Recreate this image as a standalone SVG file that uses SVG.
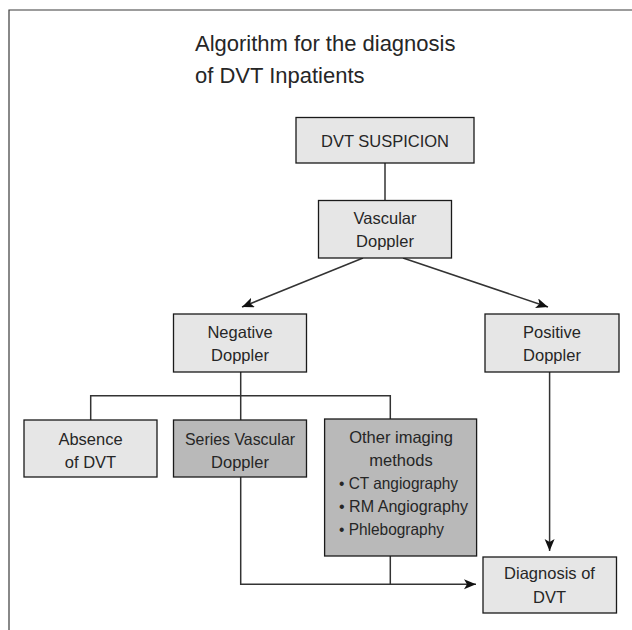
<svg xmlns="http://www.w3.org/2000/svg" width="632" height="630" viewBox="0 0 632 630">
  <style>
    .box { stroke: #1a1a1a; stroke-width: 1.3; }
    .light { fill: #e6e6e6; }
    .dark { fill: #b9b9b9; }
    .lbl { font-family: "Liberation Sans", Arial, sans-serif; font-size: 16.5px; fill: #262626; text-anchor: middle; }
    .left { text-anchor: start; }
    .title { font-family: "Liberation Sans", Arial, sans-serif; font-size: 22px; fill: #262626; }
    .conn { fill: none; stroke: #333; stroke-width: 1.5; }
  </style>
  <defs>
    <marker id="arr" markerUnits="userSpaceOnUse" markerWidth="14" markerHeight="12" refX="12" refY="5" orient="auto">
      <path d="M0,0 L12,5 L0,10 L3,5 Z" fill="#111"/>
    </marker>
  </defs>
  <rect x="0" y="0" width="632" height="630" fill="#ffffff"/>
  <path d="M9,640 V10 H640" fill="none" stroke="#3a3a3a" stroke-width="1.2"/>

  <g id="title">
    <text class="title" x="195" y="51">Algorithm for the diagnosis</text>
    <text class="title" x="195" y="83">of DVT Inpatients</text>
  </g>

  <g id="connectors">
    <path class="conn" d="M385,163 V200.5"/>
    <path class="conn" d="M363,258 L242,307" marker-end="url(#arr)"/>
    <path class="conn" d="M403,258 L548,307" marker-end="url(#arr)"/>
    <path class="conn" d="M240.7,372 V420"/>
    <path class="conn" d="M90.7,420 V395.7 H390.3 V419"/>
    <path class="conn" d="M549.6,372 V551" marker-end="url(#arr)"/>
    <path class="conn" d="M240.7,477 V584.3 H476" marker-end="url(#arr)"/>
    <path class="conn" d="M390.3,556 V584.3"/>
  </g>

  <g id="n-dvt-suspicion">
    <rect class="box light" x="296" y="117.5" width="178" height="45.5"/>
    <text class="lbl" x="385" y="147">DVT SUSPICION</text>
  </g>
  <g id="n-vascular-doppler">
    <rect class="box light" x="318.5" y="200.5" width="133" height="57.5"/>
    <text class="lbl" x="385" y="223.5">Vascular</text>
    <text class="lbl" x="385" y="246.5">Doppler</text>
  </g>
  <g id="n-negative-doppler">
    <rect class="box light" x="173.5" y="314" width="133" height="58"/>
    <text class="lbl" x="240" y="338">Negative</text>
    <text class="lbl" x="240" y="361">Doppler</text>
  </g>
  <g id="n-positive-doppler">
    <rect class="box light" x="485" y="314" width="134" height="58"/>
    <text class="lbl" x="552" y="338">Positive</text>
    <text class="lbl" x="552" y="361">Doppler</text>
  </g>
  <g id="n-absence">
    <rect class="box light" x="24" y="420" width="133" height="57"/>
    <text class="lbl" x="90.5" y="444.5">Absence</text>
    <text class="lbl" x="90.5" y="467.5">of DVT</text>
  </g>
  <g id="n-series">
    <rect class="box dark" x="173.5" y="420" width="133" height="57"/>
    <text class="lbl" x="240" y="444.5" textLength="110" lengthAdjust="spacingAndGlyphs">Series Vascular</text>
    <text class="lbl" x="240" y="467.5">Doppler</text>
  </g>
  <g id="n-other-imaging">
    <rect class="box dark" x="324.6" y="419" width="152" height="137"/>
    <text class="lbl" x="401" y="443">Other imaging</text>
    <text class="lbl" x="401" y="466">methods</text>
    <text class="lbl left" x="339" y="489" textLength="119" lengthAdjust="spacingAndGlyphs">• CT angiography</text>
    <text class="lbl left" x="339" y="512" textLength="129" lengthAdjust="spacingAndGlyphs">• RM Angiography</text>
    <text class="lbl left" x="339" y="535" textLength="105" lengthAdjust="spacingAndGlyphs">• Phlebography</text>
  </g>
  <g id="n-diagnosis">
    <rect class="box light" x="483" y="557" width="133.5" height="56"/>
    <text class="lbl" x="549.5" y="578.5">Diagnosis of</text>
    <text class="lbl" x="549.5" y="602.5">DVT</text>
  </g>
</svg>
